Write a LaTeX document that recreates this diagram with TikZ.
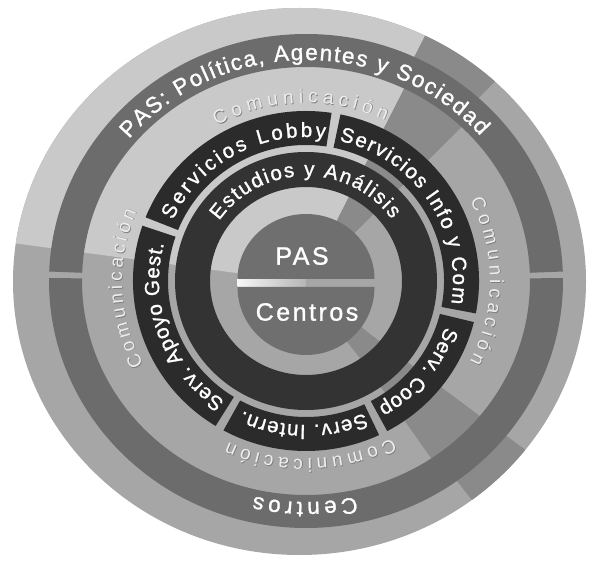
\documentclass[tikz,border=0pt]{standalone}
\usepackage{fontspec}
\setmainfont{Liberation Sans}
\newfontfamily\heavyfont[FakeBold=1.2]{Liberation Sans}
\newfontfamily\corefont[LetterSpace=10, FakeBold=1.2]{Liberation Sans}
\usetikzlibrary{calc, decorations.text}

\definecolor{shadelight}{HTML}{C9C9C9}
\definecolor{shademid}{HTML}{A6A6A6}
\definecolor{shadedark}{HTML}{8A8A8A}
\definecolor{bandgray}{HTML}{6C6C6C}
\definecolor{boxblack}{HTML}{2B2B2B}
\definecolor{ringblack}{HTML}{333333}
\definecolor{coregray}{HTML}{6F6F6F}
\definecolor{commwhite}{HTML}{EEEEEE}
\definecolor{commshadow}{HTML}{7E7E7E}

\newcommand\bandtext{\heavyfont\fontsize{22.5}{22.5}\selectfont\color{white}}
\newcommand\boxtext{\heavyfont\fontsize{20.5}{20.5}\selectfont\color{white}}
\newcommand\commtext{\fontsize{19}{19}\selectfont\color{commwhite}}
\newcommand\commshade{\fontsize{19}{19}\selectfont\color{commshadow}}

\tikzset{
  lightpart/.style={fill=shadelight},
  midpart/.style={fill=shademid},
  darkpart/.style={fill=shadedark},
  bandpart/.style={fill=bandgray},
  boxpart/.style={fill=boxblack},
  ringpart/.style={fill=ringblack, even odd rule},
  corepart/.style={fill=coregray},
  coretext/.style={text=white, inner sep=0pt, font=\corefont\fontsize{25}{25}\selectfont},
  arclabel/.style={decorate, decoration={text along path, text align={fit to path}, text={#1}}}
}

\begin{document}
\begin{tikzpicture}[x=1pt, y=1pt]
\useasboundingbox (0,0) rectangle (594,560);
\coordinate (rim) at (299.5,278.5);
\coordinate (hub) at (306,279);
\coordinate (shadowhub) at (306.8,278.2);

% outer disc, shaded sectors
\fill[midpart] (rim) ellipse[x radius=286.5, y radius=273.5];
\fill[lightpart] (rim) -- ($(rim)+(64:286.5 and 273.5)$) arc[start angle=64, end angle=172, x radius=286.5, y radius=273.5] -- cycle;
\fill[darkpart] (rim) -- ($(rim)+(47:286.5 and 273.5)$) arc[start angle=47, end angle=64, x radius=286.5, y radius=273.5] -- cycle;
\fill[darkpart] (rim) -- ($(rim)+(-53:286.5 and 273.5)$) arc[start angle=-53, end angle=-38, x radius=286.5, y radius=273.5] -- cycle;

% inner sectors round the hub
\fill[lightpart] (hub) -- ($(hub)+(64:225 and 215)$) arc[start angle=64, end angle=172, x radius=225, y radius=215] -- cycle;
\fill[darkpart] (hub) -- ($(hub)+(46:225 and 215)$) arc[start angle=46, end angle=64, x radius=225, y radius=215] -- cycle;
\fill[darkpart] (hub) -- ($(hub)+(-56:225 and 215)$) arc[start angle=-56, end angle=-41, x radius=225, y radius=215] -- cycle;

% PAS / Centros bands
\fill[bandpart] ($(hub)+(2.2:257 and 247)$) arc[start angle=2.2, end angle=177.8, x radius=257, y radius=247] -- ($(hub)+(177.8:224 and 214)$) arc[start angle=177.8, end angle=2.2, x radius=224, y radius=214] -- cycle;
\fill[bandpart] ($(hub)+(179.3:257 and 247)$) arc[start angle=179.3, end angle=360.7, x radius=257, y radius=247] -- ($(hub)+(360.7:224 and 214)$) arc[start angle=360.7, end angle=179.3, x radius=224, y radius=214] -- cycle;

% service boxes
\fill[boxpart] ($(hub)+(81.5:173 and 170)$) arc[start angle=81.5, end angle=158, x radius=173, y radius=170] -- ($(hub)+(158:138 and 136)$) arc[start angle=158, end angle=81.5, x radius=138, y radius=136] -- cycle;
\fill[boxpart] ($(hub)+(-11:173 and 170)$) arc[start angle=-11, end angle=78.5, x radius=173, y radius=170] -- ($(hub)+(78.5:138 and 136)$) arc[start angle=78.5, end angle=-11, x radius=138, y radius=136] -- cycle;
\fill[boxpart] ($(hub)+(-62:173 and 170)$) arc[start angle=-62, end angle=-14, x radius=173, y radius=170] -- ($(hub)+(-14:138 and 136)$) arc[start angle=-14, end angle=-62, x radius=138, y radius=136] -- cycle;
\fill[boxpart] ($(hub)+(-118.5:173 and 170)$) arc[start angle=-118.5, end angle=-65, x radius=173, y radius=170] -- ($(hub)+(-65:138 and 136)$) arc[start angle=-65, end angle=-118.5, x radius=138, y radius=136] -- cycle;
\fill[boxpart] ($(hub)+(161:173 and 170)$) arc[start angle=161, end angle=238.5, x radius=173, y radius=170] -- ($(hub)+(238.5:138 and 136)$) arc[start angle=238.5, end angle=161, x radius=138, y radius=136] -- cycle;

% studies ring
\fill[ringpart] (hub) ellipse[x radius=131, y radius=129] (hub) ellipse[x radius=96, y radius=94];

% core
\shade[left color=white!85!shadelight, right color=shadelight!90!black] (237.5,273) rectangle (306,281);
\fill[midpart] (306,273) rectangle (374.5,281);
\fill[corepart] ($(hub)+(68.5,2)$) arc[start angle=0, end angle=180, x radius=68.5, y radius=65] -- cycle;
\fill[corepart] ($(hub)+(-68.5,-6)$) arc[start angle=180, end angle=360, x radius=68.5, y radius=68] -- cycle;
\node[coretext] (pas) at (302,304) {PAS};
\node[coretext] (centros) at (307,248) {Centros};

% labels on the bands
\path[arclabel={|\bandtext|PAS: Política, Agentes y Sociedad}] ($(hub)+(140:231 and 221)$) arc[start angle=140, end angle=41, x radius=231, y radius=221];
\path[arclabel={|\bandtext|Centros}] ($(hub)+(-77.5:231 and 221)$) arc[start angle=-77.5, end angle=-103, x radius=231, y radius=221];

% Comunicacion, shadow first
\path[arclabel={|\commshade|Comunicación}] ($(shadowhub)+(119:184 and 178)$) arc[start angle=119, end angle=64.5, x radius=184, y radius=178];
\path[arclabel={|\commshade|Comunicación}] ($(shadowhub)+(27:184 and 178)$) arc[start angle=27, end angle=-27, x radius=184, y radius=178];
\path[arclabel={|\commshade|Comunicación}] ($(shadowhub)+(-62:184 and 178)$) arc[start angle=-62, end angle=-115, x radius=184, y radius=178];
\path[arclabel={|\commshade|Comunicación}] ($(shadowhub)+(208:184 and 178)$) arc[start angle=208, end angle=157, x radius=184, y radius=178];
\path[arclabel={|\commtext|Comunicación}] ($(hub)+(119:184 and 178)$) arc[start angle=119, end angle=64.5, x radius=184, y radius=178];
\path[arclabel={|\commtext|Comunicación}] ($(hub)+(27:184 and 178)$) arc[start angle=27, end angle=-27, x radius=184, y radius=178];
\path[arclabel={|\commtext|Comunicación}] ($(hub)+(-62:184 and 178)$) arc[start angle=-62, end angle=-115, x radius=184, y radius=178];
\path[arclabel={|\commtext|Comunicación}] ($(hub)+(208:184 and 178)$) arc[start angle=208, end angle=157, x radius=184, y radius=178];

\path[arclabel={|\boxtext|Servicios Lobby}] ($(hub)+(155:147 and 144)$) arc[start angle=155, end angle=82.5, x radius=147, y radius=144];
\path[arclabel={|\boxtext|Servicios Info y Com}] ($(hub)+(77:147 and 144)$) arc[start angle=77, end angle=-9, x radius=147, y radius=144];
\path[arclabel={|\boxtext|Serv. Coop}] ($(hub)+(-18.5:147 and 144)$) arc[start angle=-18.5, end angle=-60.5, x radius=147, y radius=144];
\path[arclabel={|\boxtext|Serv. Intern.}] ($(hub)+(-66.5:147 and 144)$) arc[start angle=-66.5, end angle=-115.5, x radius=147, y radius=144];
\path[arclabel={|\boxtext|Serv. Apoyo Gest.}] ($(hub)+(236.5:147 and 144)$) arc[start angle=236.5, end angle=165, x radius=147, y radius=144];

\path[arclabel={|\boxtext|Estudios y Análisis}] ($(hub)+(145:106 and 105)$) arc[start angle=145, end angle=36, x radius=106, y radius=105];
\end{tikzpicture}
\end{document}
